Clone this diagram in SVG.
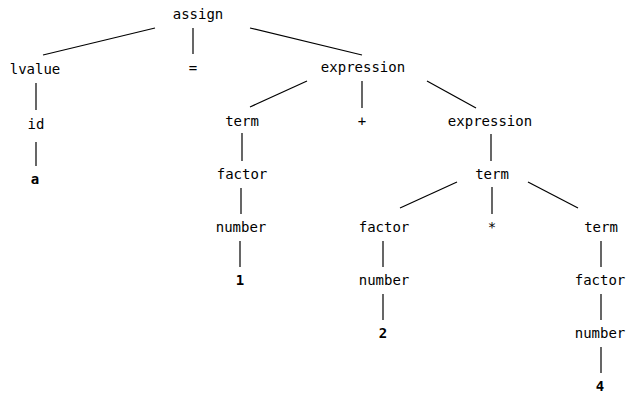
<svg xmlns="http://www.w3.org/2000/svg" width="636" height="404" viewBox="0 0 636 404">
<style>
text{font-family:"DejaVu Sans Mono","Liberation Mono",monospace;font-size:14px;fill:#000;text-anchor:middle}
.b{font-weight:bold}
#edges line{stroke:#000;stroke-width:1.2}
</style>
<rect width="636" height="404" fill="#fff"/>
<g id="edges">
<line x1="155" y1="28" x2="43" y2="55"/>
<line x1="193" y1="28" x2="193" y2="54"/>
<line x1="250" y1="28" x2="362" y2="55"/>
<line x1="36" y1="83" x2="36" y2="110"/>
<line x1="36" y1="142" x2="36" y2="166"/>
<line x1="307" y1="81" x2="250" y2="107"/>
<line x1="362" y1="81" x2="362" y2="108"/>
<line x1="427" y1="81" x2="476" y2="108"/>
<line x1="242" y1="133" x2="242" y2="161"/>
<line x1="241" y1="188" x2="241" y2="214"/>
<line x1="240" y1="241" x2="240" y2="267"/>
<line x1="491" y1="134" x2="491" y2="161"/>
<line x1="457" y1="182" x2="400" y2="208"/>
<line x1="492" y1="187" x2="492" y2="214"/>
<line x1="528" y1="182" x2="578" y2="208"/>
<line x1="383" y1="241" x2="383" y2="267"/>
<line x1="383" y1="294" x2="383" y2="320"/>
<line x1="601" y1="241" x2="601" y2="267"/>
<line x1="601" y1="294" x2="601" y2="320"/>
<line x1="601" y1="347" x2="601" y2="373"/>
</g>
<g id="assign"><text x="198" y="19">assign</text></g>
<g id="lvalue"><text x="35" y="74">lvalue</text></g>
<g id="eq"><text x="193" y="73">=</text></g>
<g id="expression1"><text x="363" y="72">expression</text></g>
<g id="id"><text x="36" y="129">id</text></g>
<g id="a"><text class="b" x="35" y="184">a</text></g>
<g id="term1"><text x="242" y="126">term</text></g>
<g id="plus"><text x="362" y="126">+</text></g>
<g id="expression2"><text x="490" y="126">expression</text></g>
<g id="factor1"><text x="242" y="179">factor</text></g>
<g id="term2"><text x="492" y="179">term</text></g>
<g id="number1"><text x="241" y="232">number</text></g>
<g id="factor2"><text x="384" y="232">factor</text></g>
<g id="star"><text x="492" y="232">*</text></g>
<g id="term3"><text x="601" y="232">term</text></g>
<g id="one"><text class="b" x="240" y="285">1</text></g>
<g id="number2"><text x="384" y="285">number</text></g>
<g id="factor3"><text x="600" y="285">factor</text></g>
<g id="two"><text class="b" x="383" y="338">2</text></g>
<g id="number3"><text x="600" y="338">number</text></g>
<g id="four"><text class="b" x="600" y="391">4</text></g>
</svg>
